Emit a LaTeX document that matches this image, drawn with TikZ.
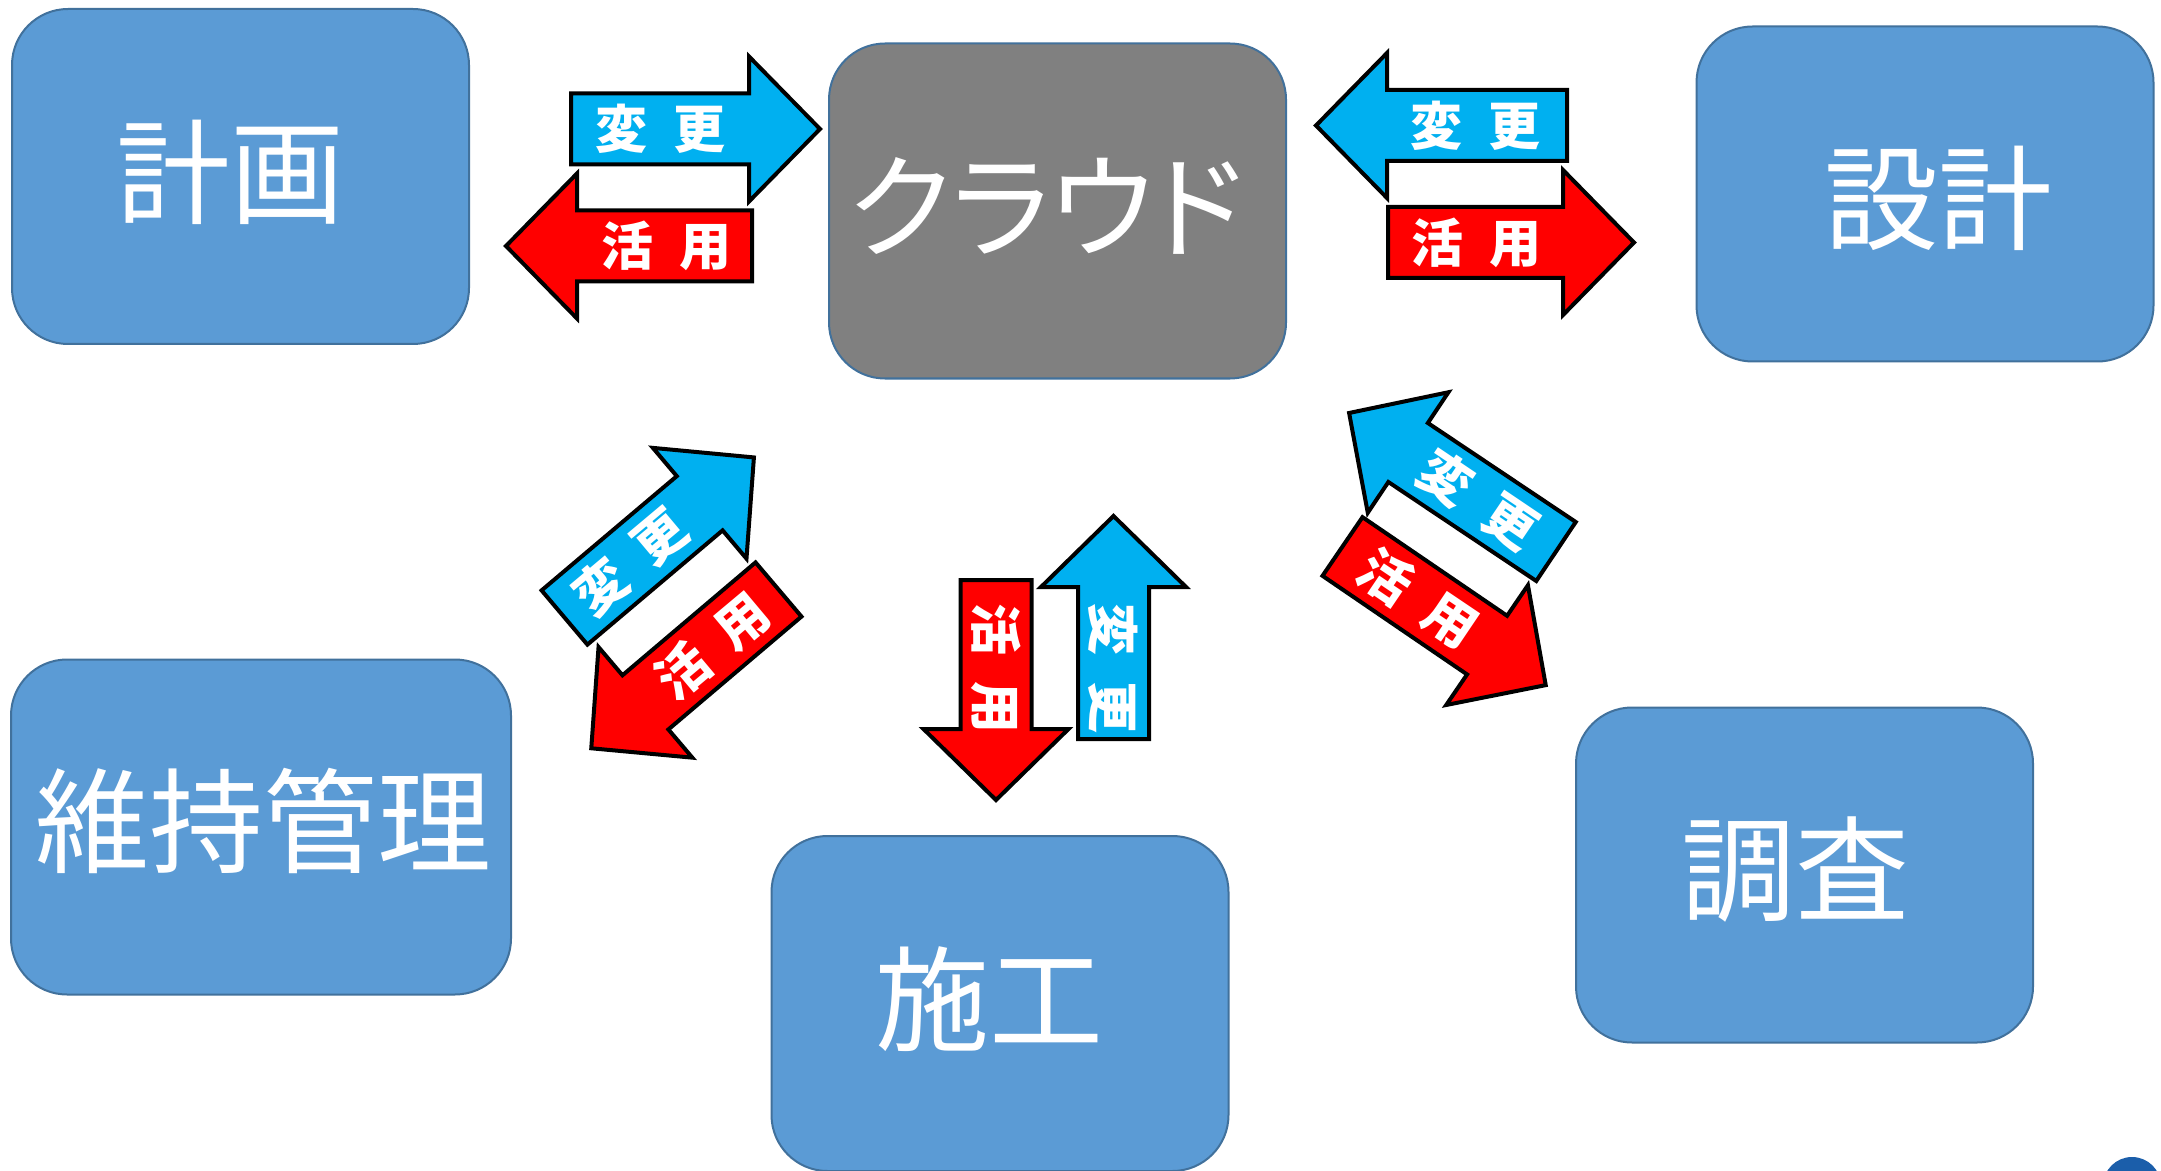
\documentclass[tikz,border=0pt]{standalone}
\usepackage{fontspec}
\newfontfamily\jp{Noto Sans CJK JP}
\newfontfamily\jpp{Noto Sans CJK JP}[RawFeature=+palt]
\definecolor{boxblue}{HTML}{5B9BD5}
\definecolor{boxedge}{HTML}{41719C}
\definecolor{cloudgrey}{HTML}{808080}
\definecolor{arrblue}{HTML}{00B0F0}
\definecolor{arrred}{HTML}{FF0000}
\definecolor{dotblue}{HTML}{1B5EAA}
\tikzset{
  box/.style={draw=boxedge, line width=1pt, fill=boxblue, rounded corners=28pt,
    minimum width=228.5pt, minimum height=167.5pt, inner sep=0pt},
  boxtext/.style={text=white, inner sep=0pt, font=\jp\fontsize{57pt}{57pt}\selectfont},
  arrowshape/.style={draw=black, line width=2pt, line join=miter, miter limit=10},
  arrtext/.style={text=white, inner sep=0pt, font=\jp\bfseries\fontsize{26pt}{26pt}\selectfont},
}
% name, tail x, tail y, direction angle, body length, colour, text, text rotation, text position
\newcommand\blockarr[9]{%
  \begin{scope}[shift={(#2,#3)}, rotate=#4]
    \path[arrowshape, fill=#6] (0,-35.5) -- (#5,-35.5) -- (#5,-72.5) -- ({#5+71},0)
      -- (#5,72.5) -- (#5,35.5) -- (0,35.5) -- cycle;
    \node[arrtext, rotate=#8] (#1) at (#9,0) {#7};
  \end{scope}}
\newcommand\hen{変\hspace{13pt}更}
\newcommand\kat{活\hspace{13pt}用}
\begin{document}
\begin{tikzpicture}[x=0.5pt, y=-0.5pt]
  \useasboundingbox (0,0) rectangle (2161,1171);
  \clip (0,0) rectangle (2161,1171);
  \fill[white] (0,0) rectangle (2161,1171);

  % boxes
  \node[box] (plan) at (240.5,176.5) {};
  \node[box, fill=cloudgrey] (cloud) at (1057.5,211) {};
  \node[box] (design) at (1925,194) {};
  \node[box, minimum width=250pt] (maint) at (261,827) {};
  \node[box] (const) at (1000,1003.5) {};
  \node[box] (survey) at (1804.5,875) {};

  \node[boxtext] (plan-t) at (230,172) {計画};
  \node[boxtext, font=\jpp\fontsize{57pt}{57pt}\selectfont] (cloud-t) at (1046,206) {クラウド};
  \node[boxtext] (design-t) at (1938,198) {設計};
  \node[boxtext] (maint-t) at (263,821) {維持管理};
  \node[boxtext] (const-t) at (989,999) {施工};
  \node[boxtext] (survey-t) at (1795,870) {調査};

  % arrows
  \blockarr{a1}{571}{129}{0}{178}{arrblue}{\hen}{0}{89}
  \blockarr{a2}{752}{246}{180}{175}{arrred}{\kat}{0}{86}
  \blockarr{a3}{1567}{125.5}{180}{180}{arrblue}{\hen}{0}{92}
  \blockarr{a4}{1388}{242.5}{0}{175}{arrred}{\kat}{0}{88}
  \blockarr{a5}{996}{580}{-90}{149}{arrred}{\kat}{-90}{88}
  \blockarr{a6}{1113.5}{739}{90}{152}{arrblue}{\hen}{-90}{71}
  \blockarr{a7}{564.5}{617.5}{40.2}{177}{arrblue}{\hen}{40}{86}
  \blockarr{a8}{778.5}{589.5}{220.3}{174.5}{arrred}{\kat}{40}{87}
  \blockarr{a9}{1556}{551.5}{146.2}{178}{arrblue}{\hen}{-34}{93}
  \blockarr{a10}{1342.5}{546.5}{-34.3}{175}{arrred}{\kat}{-34}{92}

  % page marker
  \node[circle, fill=dotblue, minimum size=29pt, inner sep=0pt] (dot) at (2132,1186) {};
\end{tikzpicture}
\end{document}
